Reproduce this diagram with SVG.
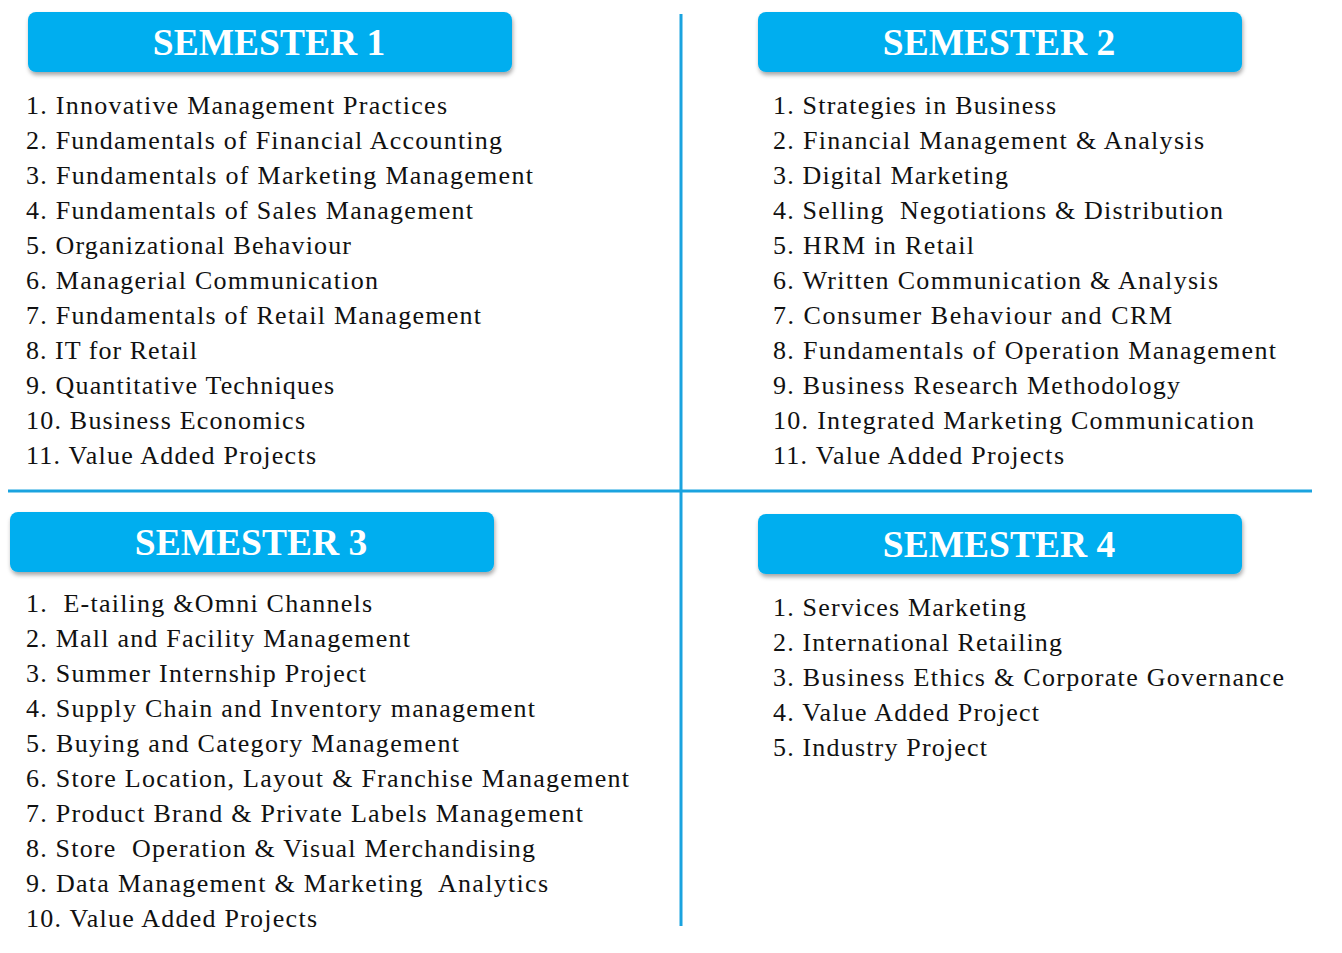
<svg xmlns="http://www.w3.org/2000/svg" width="1342" height="953" viewBox="0 0 1342 953">
<defs>
<style>
.h{fill:#00AEEF;}
.ht{font-family:"Liberation Serif",serif;font-weight:bold;font-size:37.5px;fill:#fff;text-anchor:middle;}
.t{font-family:"Liberation Serif",serif;font-size:26px;fill:#111;}
.ln{stroke:#1AA3DF;stroke-width:3;}
</style>
<filter id="sh" x="-5%" y="-20%" width="110%" height="150%"><feDropShadow dx="1" dy="3" stdDeviation="2" flood-color="#000" flood-opacity="0.35"/></filter>
</defs>
<rect width="1342" height="953" fill="#fff"/>
<g id="connectors">
<line class="ln" x1="681" y1="14" x2="681" y2="926"/>
<line class="ln" x1="8" y1="491" x2="1312" y2="491"/>
</g>
<g id="sem1">
<rect class="h" x="28" y="12" width="484" height="60" rx="8" filter="url(#sh)"/>
<text class="ht" x="269" y="55">SEMESTER 1</text>
<text class="t" x="26" y="114" textLength="421" lengthAdjust="spacing">1. Innovative Management Practices</text>
<text class="t" x="26" y="149" textLength="476" lengthAdjust="spacing">2. Fundamentals of Financial Accounting</text>
<text class="t" x="26" y="184" textLength="507" lengthAdjust="spacing">3. Fundamentals of Marketing Management</text>
<text class="t" x="26" y="219" textLength="447" lengthAdjust="spacing">4. Fundamentals of Sales Management</text>
<text class="t" x="26" y="254" textLength="325" lengthAdjust="spacing">5. Organizational Behaviour</text>
<text class="t" x="26" y="289" textLength="352" lengthAdjust="spacing">6. Managerial Communication</text>
<text class="t" x="26" y="324" textLength="455" lengthAdjust="spacing">7. Fundamentals of Retail Management</text>
<text class="t" x="26" y="359" textLength="171" lengthAdjust="spacing">8. IT for Retail</text>
<text class="t" x="26" y="394" textLength="308" lengthAdjust="spacing">9. Quantitative Techniques</text>
<text class="t" x="26" y="429" textLength="279" lengthAdjust="spacing">10. Business Economics</text>
<text class="t" x="26" y="464" textLength="290" lengthAdjust="spacing">11. Value Added Projects</text>
</g>
<g id="sem2">
<rect class="h" x="758" y="12" width="484" height="60" rx="8" filter="url(#sh)"/>
<text class="ht" x="999" y="55">SEMESTER 2</text>
<text class="t" x="773" y="114" textLength="283" lengthAdjust="spacing">1. Strategies in Business</text>
<text class="t" x="773" y="149" textLength="431" lengthAdjust="spacing">2. Financial Management &amp; Analysis</text>
<text class="t" x="773" y="184" textLength="235" lengthAdjust="spacing">3. Digital Marketing</text>
<text class="t" x="773" y="219" textLength="450" lengthAdjust="spacing" xml:space="preserve">4. Selling  Negotiations &amp; Distribution</text>
<text class="t" x="773" y="254" textLength="201" lengthAdjust="spacing">5. HRM in Retail</text>
<text class="t" x="773" y="289" textLength="445" lengthAdjust="spacing">6. Written Communication &amp; Analysis</text>
<text class="t" x="773" y="324" textLength="399" lengthAdjust="spacing">7. Consumer Behaviour and CRM</text>
<text class="t" x="773" y="359" textLength="503" lengthAdjust="spacing">8. Fundamentals of Operation Management</text>
<text class="t" x="773" y="394" textLength="407" lengthAdjust="spacing">9. Business Research Methodology</text>
<text class="t" x="773" y="429" textLength="481" lengthAdjust="spacing">10. Integrated Marketing Communication</text>
<text class="t" x="773" y="464" textLength="291" lengthAdjust="spacing">11. Value Added Projects</text>
</g>
<g id="sem3">
<rect class="h" x="10" y="512" width="484" height="60" rx="8" filter="url(#sh)"/>
<text class="ht" x="251" y="555">SEMESTER 3</text>
<text class="t" x="26" y="612" textLength="346" lengthAdjust="spacing" xml:space="preserve">1.  E-tailing &amp;Omni Channels</text>
<text class="t" x="26" y="647" textLength="384" lengthAdjust="spacing">2. Mall and Facility Management</text>
<text class="t" x="26" y="682" textLength="340" lengthAdjust="spacing">3. Summer Internship Project</text>
<text class="t" x="26" y="717" textLength="509" lengthAdjust="spacing">4. Supply Chain and Inventory management</text>
<text class="t" x="26" y="752" textLength="433" lengthAdjust="spacing">5. Buying and Category Management</text>
<text class="t" x="26" y="787" textLength="603" lengthAdjust="spacing">6. Store Location, Layout &amp; Franchise Management</text>
<text class="t" x="26" y="822" textLength="557" lengthAdjust="spacing">7. Product Brand &amp; Private Labels Management</text>
<text class="t" x="26" y="857" textLength="509" lengthAdjust="spacing" xml:space="preserve">8. Store  Operation &amp; Visual Merchandising</text>
<text class="t" x="26" y="892" textLength="522" lengthAdjust="spacing" xml:space="preserve">9. Data Management &amp; Marketing  Analytics</text>
<text class="t" x="26" y="927" textLength="291" lengthAdjust="spacing">10. Value Added Projects</text>
</g>
<g id="sem4">
<rect class="h" x="758" y="514" width="484" height="60" rx="8" filter="url(#sh)"/>
<text class="ht" x="999" y="557">SEMESTER 4</text>
<text class="t" x="773" y="616" textLength="253" lengthAdjust="spacing">1. Services Marketing</text>
<text class="t" x="773" y="651" textLength="289" lengthAdjust="spacing">2. International Retailing</text>
<text class="t" x="773" y="686" textLength="511" lengthAdjust="spacing">3. Business Ethics &amp; Corporate Governance</text>
<text class="t" x="773" y="721" textLength="266" lengthAdjust="spacing">4. Value Added Project</text>
<text class="t" x="773" y="756" textLength="214" lengthAdjust="spacing">5. Industry Project</text>
</g>
</svg>
